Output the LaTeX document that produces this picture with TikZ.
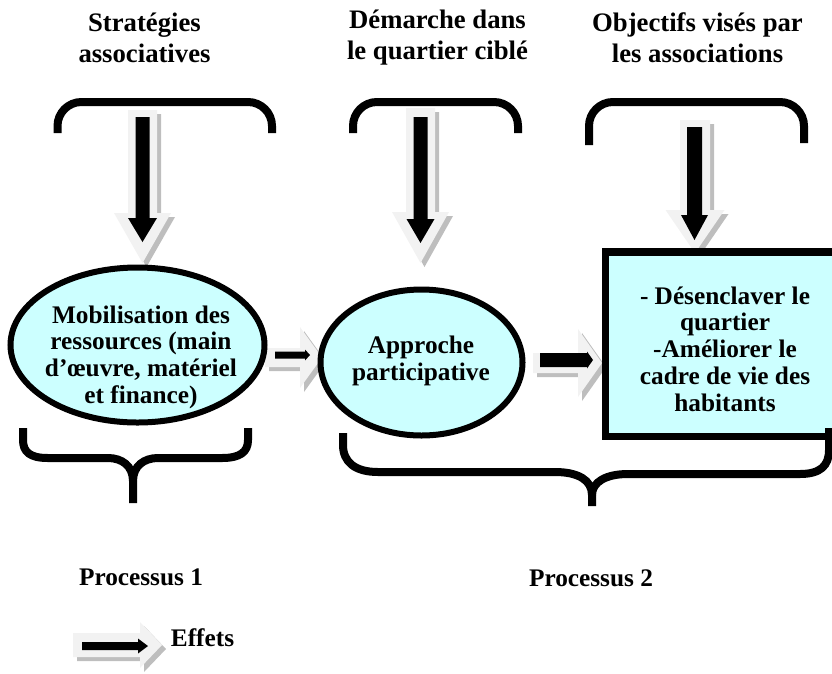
\documentclass[tikz,border=0pt]{standalone}
\usepackage{fontspec}
\setmainfont{Liberation Serif}
\usetikzlibrary{shapes.geometric}
\definecolor{cyanfill}{RGB}{204,255,255}
\definecolor{arrlight}{RGB}{242,242,242}
\definecolor{arrshade}{RGB}{190,190,190}
\def\APath#1,#2,#3,#4,#5;{(#1,#4) -- (#2,#4) -- (#2,#5) -- (#3,0) -- (#2,-#5) -- (#2,-#4) -- (#1,-#4) -- cycle}
% #1 origin of light arrow, #2 rotation, #3 light params, #4 origin of black arrow, #5 black params
\newcommand{\BlockArrow}[5]{%
  \begin{scope}[shift={(#1)},xshift=4pt,yshift=-4pt,rotate=#2]\fill[arrshade] \APath#3;;\end{scope}
  \begin{scope}[shift={(#1)},rotate=#2]\fill[arrlight] \APath#3;;\end{scope}
  \begin{scope}[shift={(#4)},rotate=#2]\fill[black] \APath#5;;\end{scope}}
\tikzset{
  titlefont/.style={font=\fontsize{26.7}{31}\selectfont\bfseries},
  bodyfont/.style={font=\fontsize{25.3}{26.7}\selectfont\bfseries},
  titlenode/.style={titlefont, align=center, inner sep=0pt},
  txtnode/.style={bodyfont, align=center, inner sep=0pt},
  ell/.style={ellipse, draw=black, line width=6pt, fill=cyanfill, inner sep=0pt},
  bracket/.style={draw=black, line width=8pt, line cap=butt},
}
\begin{document}
\begin{tikzpicture}[x=1pt,y=-1pt]
\useasboundingbox (0,0) rectangle (832,673);
\clip (0,0) rectangle (832,673);

% titles
\node[titlenode] (t1) at (144.5,38) {Stratégies\\associatives};
\node[titlenode] (t2) at (437.5,38) {Démarche dans\\le quartier ciblé};
\node[titlenode] (t3) at (697.5,38) {Objectifs visés par\\les associations};

% top brackets
\draw[bracket, rounded corners=24pt] (57.5,133) -- (57.5,102) -- (272,102) -- (272,133);
\draw[bracket, rounded corners=24pt] (353,133) -- (353,102) -- (518,102) -- (518,133);
\draw[bracket, rounded corners=24pt] (589,145) -- (589,102) -- (804,102) -- (804,143);

% arrow anchor coordinates
\coordinate (a1) at (142.5,110);  \coordinate (a1b) at (142.5,117);
\coordinate (a2) at (420.5,108);  \coordinate (a2b) at (420.5,117);
\coordinate (a3) at (695,120);    \coordinate (a3b) at (694.5,127);
\coordinate (h1) at (265,357.5);  \coordinate (h1b) at (275,355);
\coordinate (h2) at (533,363);    \coordinate (h2b) at (540,360);
\coordinate (e1) at (73,645);     \coordinate (e1b) at (82,646);

\BlockArrow{a1}{-90}{0,103,153,14.5,28.5}{a1b}{0,101,125,7,14.5}
\BlockArrow{a2}{-90}{0,104,155,14.5,28.5}{a2b}{0,102,126,7,14}
\BlockArrow{a3}{-90}{0,90,133,15,29.5}{a3b}{0,88,113,7.5,13.5}
\BlockArrow{h1}{0}{0,35,57,9.5,30.5}{h1b}{0,30,35,3.5,5.5}
\BlockArrow{h2}{0}{0,45,69,10,34}{h2b}{0,47,53,7,8.5}
\BlockArrow{e1}{0}{0,67,89,12,23}{e1b}{0,56,66,4,7.5}

% ellipses and box
\node[ell, minimum width=254pt, minimum height=155pt] (mob) at (137.5,345) {};
\node[txtnode] (mobtxt) at (141,357) {Mobilisation des\\ressources (main\\d’œuvre, matériel\\et finance)};

\node[ell, minimum width=202pt, minimum height=146pt] (app) at (421.5,362.5) {};
\node[txtnode] (apptxt) at (421,361) {Approche\\participative};

\node[draw=black, line width=7.5pt, fill=cyanfill, minimum width=239pt, minimum height=184.5pt, inner sep=0pt] (obj) at (725,344.25) {};
\node[txtnode] (objtxt) at (725,349) {- Désenclaver le\\quartier\\-Améliorer le\\cadre de vie des\\habitants};

% bottom braces
\draw[bracket] (23,428) -- (23,440) .. controls (23,452) and (30,458) .. (48,458) -- (108,458) .. controls (122,458) and (133,466) .. (133,481) -- (133,503);
\draw[bracket] (133,481) .. controls (133,466) and (144,458) .. (158,458) -- (222,458) .. controls (240,458) and (248,452) .. (248,440) -- (248,428);

\draw[bracket] (343,433) -- (343,445) .. controls (343,462) and (355,472) .. (378,472) -- (555,472) .. controls (578,472) and (592,480) .. (592,495) -- (592,506);
\draw[bracket] (592,495) .. controls (592,482) and (606,474) .. (628,474) -- (800,474) .. controls (820,474) and (829,466) .. (829,450) -- (829,428);

% labels
\node[txtnode] (p1) at (141,577) {Processus 1};
\node[txtnode] (p2) at (591,578) {Processus 2};
\node[txtnode] (eff) at (202.5,638) {Effets};
\end{tikzpicture}
\end{document}
